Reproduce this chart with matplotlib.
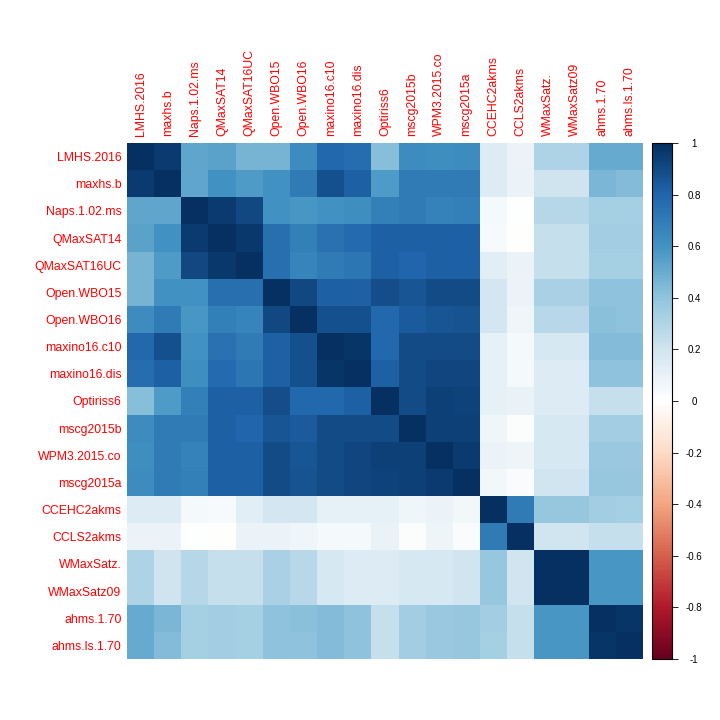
import numpy as np
import matplotlib
matplotlib.use("Agg")
import matplotlib.pyplot as plt
from matplotlib.colors import LinearSegmentedColormap

plt.rcParams['font.family'] = ['Liberation Sans', 'DejaVu Sans']

solvers = ["LMHS.2016", "maxhs.b", "Naps.1.02.ms", "QMaxSAT14", "QMaxSAT16UC",
           "Open.WBO15", "Open.WBO16", "maxino16.c10", "maxino16.dis", "Optiriss6",
           "mscg2015b", "WPM3.2015.co", "mscg2015a", "CCEHC2akms", "CCLS2akms",
           "WMaxSatz.", "WMaxSatz09", "ahms.1.70", "ahms.ls.1.70"]

# upper triangle of the correlation matrix, row by row (starting at the diagonal)
upper = [
    [1.00, 0.95, 0.52, 0.53, 0.46, 0.46, 0.62, 0.78, 0.76, 0.42, 0.62, 0.61, 0.62, 0.15, 0.08, 0.30, 0.30, 0.50, 0.50],
    [1.00, 0.52, 0.60, 0.57, 0.60, 0.70, 0.87, 0.82, 0.57, 0.70, 0.70, 0.70, 0.15, 0.08, 0.20, 0.20, 0.45, 0.43],
    [1.00, 0.95, 0.90, 0.60, 0.58, 0.60, 0.61, 0.68, 0.70, 0.67, 0.68, 0.04, 0.00, 0.28, 0.28, 0.33, 0.33],
    [1.00, 0.96, 0.75, 0.68, 0.74, 0.77, 0.82, 0.82, 0.82, 0.82, 0.03, -0.01, 0.23, 0.23, 0.34, 0.34],
    [1.00, 0.75, 0.66, 0.70, 0.72, 0.82, 0.79, 0.82, 0.82, 0.13, 0.08, 0.23, 0.23, 0.33, 0.33],
    [1.00, 0.90, 0.82, 0.82, 0.88, 0.85, 0.89, 0.89, 0.18, 0.08, 0.32, 0.32, 0.40, 0.40],
    [1.00, 0.87, 0.87, 0.78, 0.83, 0.85, 0.86, 0.18, 0.06, 0.27, 0.27, 0.41, 0.40],
    [1.00, 0.97, 0.78, 0.89, 0.89, 0.89, 0.10, 0.04, 0.17, 0.17, 0.43, 0.43],
    [1.00, 0.82, 0.89, 0.91, 0.91, 0.10, 0.04, 0.15, 0.15, 0.40, 0.40],
    [1.00, 0.89, 0.93, 0.92, 0.10, 0.09, 0.14, 0.14, 0.23, 0.23],
    [1.00, 0.93, 0.93, 0.06, 0.01, 0.17, 0.17, 0.34, 0.34],
    [1.00, 0.95, 0.08, 0.07, 0.17, 0.17, 0.37, 0.37],
    [1.00, 0.05, 0.02, 0.19, 0.19, 0.38, 0.38],
    [1.00, 0.70, 0.38, 0.38, 0.34, 0.33],
    [1.00, 0.19, 0.19, 0.23, 0.23],
    [1.00, 0.99, 0.58, 0.58],
    [1.00, 0.58, 0.58],
    [1.00, 0.97],
    [1.00],
]

cbar_ticks = [1, 0.8, 0.6, 0.4, 0.2, 0, -0.2, -0.4, -0.6, -0.8, -1]
cbar_labels = ["1", "0.8", "0.6", "0.4", "0.2", "0", "-0.2", "-0.4", "-0.6", "-0.8", "-1"]

n = len(solvers)
corr = np.zeros((n, n))
for i, row in enumerate(upper):
    corr[i, i:] = row
    corr[i:, i] = row

# corrplot default palette
cmap = LinearSegmentedColormap.from_list(
    "corrplot", ["#67001F", "#B2182B", "#D6604D", "#F4A582", "#FDDBC7", "#FFFFFF",
                 "#D1E5F0", "#92C5DE", "#4393C3", "#2166AC", "#053061"], N=200)

fig = plt.figure(figsize=(7.2, 7.2), dpi=100)
ax = fig.add_axes([127/720, 1 - 659/720, 516/720, 516/720])
im = ax.imshow(corr, cmap=cmap, vmin=-1, vmax=1, aspect='auto', interpolation='nearest')

ax.set_xticks(range(n))
ax.set_yticks(range(n))
ax.set_xticklabels(solvers, rotation=90, color='red', fontsize=8.8)
ax.set_yticklabels(solvers, color='red', fontsize=8.8)
ax.xaxis.tick_top()
ax.tick_params(axis='x', length=0, pad=5)
ax.tick_params(axis='y', length=0, pad=4)
for s in ax.spines.values():
    s.set_visible(False)

cax = fig.add_axes([652/720, 1 - 659/720, 20/720, 516/720])
cb = fig.colorbar(im, cax=cax, ticks=cbar_ticks)
cb.ax.set_yticklabels(cbar_labels, fontsize=7)
cb.ax.tick_params(length=4, width=0.6, pad=12)
for lab in cb.ax.get_yticklabels():
    lab.set_horizontalalignment('center')
cb.outline.set_linewidth(0.8)

fig.savefig("out.png", dpi=100)
